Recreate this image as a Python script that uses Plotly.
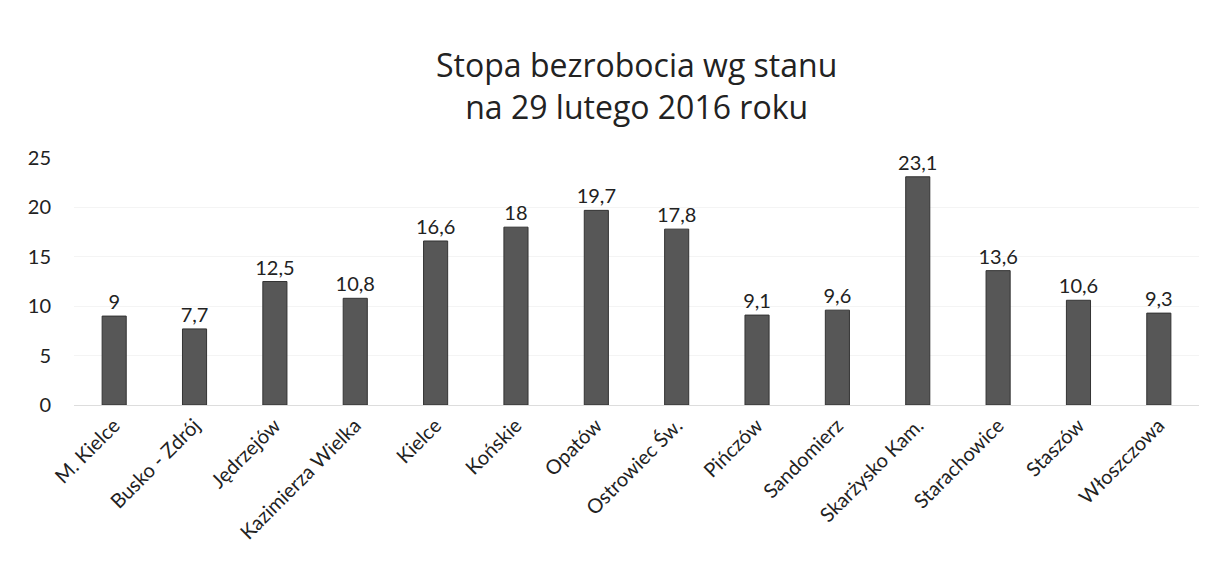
import plotly.graph_objects as go

categories = ["M. Kielce", "Busko - Zdrój", "Jędrzejów", "Kazimierza Wielka", "Kielce",
              "Końskie", "Opatów", "Ostrowiec Św.", "Pińczów", "Sandomierz",
              "Skarżysko Kam.", "Starachowice", "Staszów", "Włoszczowa"]
values = [9, 7.7, 12.5, 10.8, 16.6, 18, 19.7, 17.8, 9.1, 9.6, 23.1, 13.6, 10.6, 9.3]
y_ticks = [0, 5, 10, 15, 20, 25]
title_text = "Stopa bezrobocia wg stanu<br>na 29 lutego 2016 roku"

def fmt(v):
    s = ("%g" % v)
    return s.replace(".", ",")

labels = [fmt(v) for v in values]

FONT = "Lato, Open Sans, sans-serif"

fig = go.Figure(go.Bar(
    x=categories, y=values, text=labels, textposition="outside",
    constraintext="none",
    textfont=dict(size=20, color="#222222", family=FONT),
    marker=dict(color="#575757", line=dict(color="#333333", width=1)),
    width=0.3, cliponaxis=False,
))

# plot area: top 158px, bottom 405px (page offset of 8px compensated)
fig.update_layout(
    width=1220, height=585,
    paper_bgcolor="white", plot_bgcolor="white",
    margin=dict(l=66, r=29, t=150, b=188),
    showlegend=False,
    xaxis=dict(tickangle=-45, tickfont=dict(size=20, color="#222222", family=FONT),
               showline=True, linecolor="#dddddd", linewidth=1, ticks="", automargin=False),
    yaxis=dict(range=[0, 25], tickvals=y_ticks, showgrid=True, gridcolor="#f4f4f4",
               zeroline=False, ticks="", ticklabelstandoff=22, automargin=False,
               tickfont=dict(size=20, color="#222222", family=FONT)),
    annotations=[
        dict(text=title_text, xref="paper", yref="paper", x=0.5, y=1.295,
             xanchor="center", yanchor="middle", showarrow=False,
             font=dict(size=32, color="#222222", family="Open Sans, sans-serif")),
    ],
)

fig.write_html("out.html")
